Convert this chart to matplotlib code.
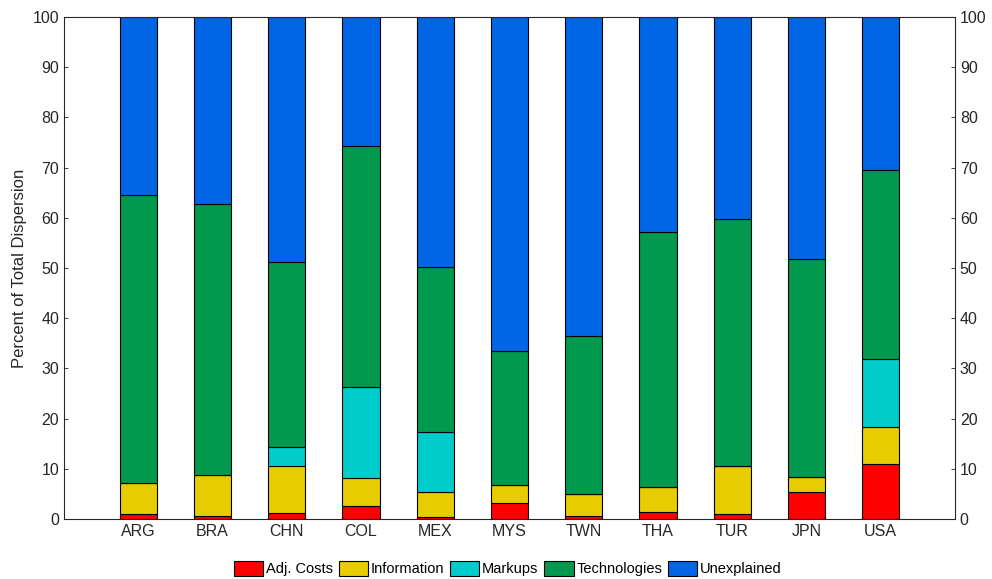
import numpy as np
import matplotlib.pyplot as plt

plt.rcParams['font.family'] = ['Liberation Sans', 'DejaVu Sans']

countries = ['ARG', 'BRA', 'CHN', 'COL', 'MEX', 'MYS', 'TWN', 'THA', 'TUR', 'JPN', 'USA']
# share of dispersion by source, in percent
adj_costs    = [0.9, 0.7, 1.1, 2.5, 0.5, 3.1, 0.7, 1.3, 1.0, 5.3, 10.9]
information  = [6.2, 8.1, 9.5, 5.7, 4.9, 3.7, 4.2, 5.1, 9.6, 3.1, 7.4]
markups      = [0.0, 0.0, 3.8, 18.1, 11.9, 0.0, 0.0, 0.0, 0.0, 0.0, 13.5]
technologies = [57.4, 53.9, 36.8, 48.0, 32.9, 26.7, 31.6, 50.8, 49.2, 43.4, 37.7]
unexplained  = [35.5, 37.3, 48.8, 25.7, 49.8, 66.5, 63.5, 42.8, 40.2, 48.2, 30.5]

labels = ['Adj. Costs', 'Information', 'Markups', 'Technologies', 'Unexplained']
colors = ['#FF0000', '#E6CC00', '#00CCCC', '#00994D', '#0066E6']
series = [adj_costs, information, markups, technologies, unexplained]

fig = plt.figure(figsize=(9.92, 5.79), dpi=100)
ax = fig.add_axes([0.0645, 0.1036, 0.8982, 0.867])

x = np.arange(1, len(countries) + 1)
bottom = np.zeros(len(countries))
for vals, lab, c in zip(series, labels, colors):
    vals = np.array(vals)
    ax.bar(x, vals, 0.5, bottom=bottom, color=c, edgecolor='black',
           linewidth=0.8, label=lab)
    bottom += vals

ax.set_xlim(0, 12)
ax.set_ylim(0, 100)
ax.set_xticks(x)
ax.set_xticklabels(countries)
ax.set_yticks(np.arange(0, 101, 10))
ax.tick_params(labelsize=11.5, direction='in', length=3, width=0.6,
               colors='#262626', labelcolor='#262626',
               right=True, labelright=True, top=False)
ax.tick_params(axis='x', length=0)
for s in ax.spines.values():
    s.set_linewidth(0.8)
    s.set_color('#262626')
ax.set_ylabel('Percent of Total Dispersion', fontsize=12, color='#262626')

fig.legend(loc='lower center', ncol=5, frameon=False, fontsize=10.5,
           handlelength=2.0, handleheight=1.2, handletextpad=0.2,
           columnspacing=0.4, bbox_to_anchor=(0.512, -0.018))

fig.savefig('out.png', dpi=100)
